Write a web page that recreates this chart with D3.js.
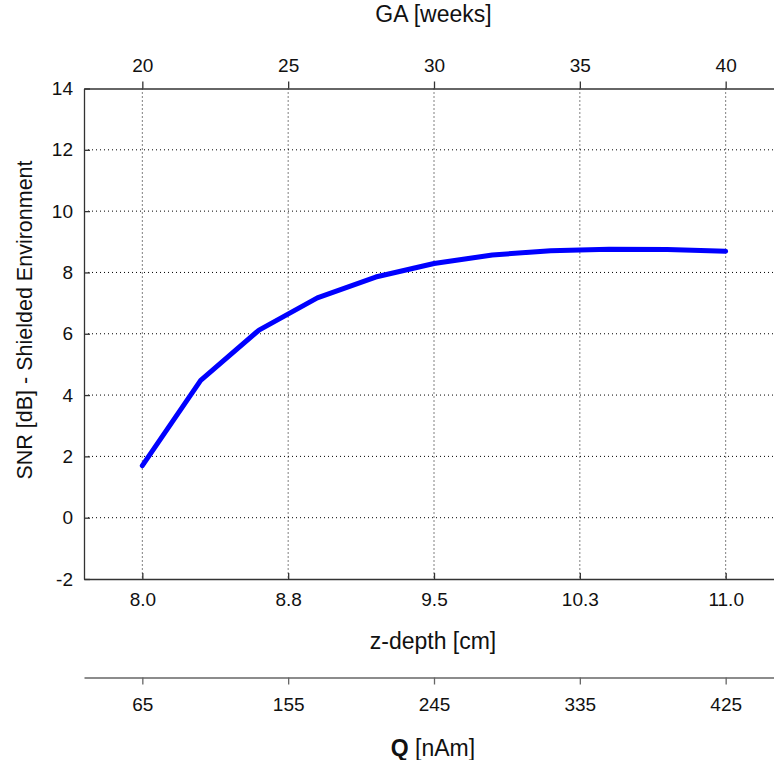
<!DOCTYPE html>
<html>
<head>
<meta charset="utf-8">
<script src="https://cdn.jsdelivr.net/npm/d3@7"></script>
<style>
  html, body { margin: 0; padding: 0; background: #fff; }
  svg { display: block; font-family: Arial, "Liberation Sans", Helvetica, sans-serif; }
</style>
</head>
<body>
<svg id="chart" width="774" height="760"></svg>
<script>
// Gestational age (weeks) and the SNR measured in a shielded room
const gaWeeks = [20, 22, 24, 26, 28, 30, 32, 34, 36, 38, 40];
const snrDb   = [1.70, 4.48, 6.12, 7.17, 7.85, 8.29, 8.57, 8.71, 8.76, 8.75, 8.69];

// Tick values for the three horizontal axes and the vertical axis
const gaTicks = [20, 25, 30, 35, 40];
const zTicks  = [8.0, 8.75, 9.5, 10.25, 11.0];   // z-depth [cm]
const qTicks  = [65, 155, 245, 335, 425];        // Q [nAm]
const snrTicks = [-2, 0, 2, 4, 6, 8, 10, 12, 14];

const svg = d3.select("#chart");
const plotL = 84, plotR = 784, plotT = 88.5, plotB = 579;

// GA is the primary x scale; z-depth and Q are linear in GA over the range shown
const x  = d3.scaleLinear().domain([18, 42]).range([plotL, plotR]);
const xz = d3.scaleLinear().domain([7.7, 11.3]).range([plotL, plotR]);
const xq = d3.scaleLinear().domain([29, 461]).range([plotL, plotR]);
const y  = d3.scaleLinear().domain([-2, 14]).range([plotB, plotT]);

const axisColor = "#333";
const tickFont = 19, titleFont = 23, yTitleFont = 21.5;
const fontStack = "Arial, 'Liberation Sans', sans-serif";

// Dotted grid
const grid = svg.append("g");
grid.selectAll("line.h").data(snrTicks.filter(d => d > -2 && d < 14)).join("line")
  .attr("class", "h")
  .attr("x1", plotL).attr("x2", plotR)
  .attr("y1", d => y(d)).attr("y2", d => y(d))
  .attr("stroke", "#000").attr("stroke-width", 1).attr("stroke-dasharray", "1,3");
grid.selectAll("line.v").data(gaTicks).join("line")
  .attr("class", "v")
  .attr("x1", d => x(d)).attr("x2", d => x(d))
  .attr("y1", plotT).attr("y2", plotB)
  .attr("stroke", "#000").attr("stroke-width", 1).attr("stroke-dasharray", "1,3");

function styleAxis(g) {
  g.attr("font-size", tickFont).attr("font-family", fontStack);
  g.selectAll(".domain").attr("stroke", axisColor).attr("stroke-width", 1.3);
  g.selectAll(".tick line").attr("stroke", axisColor).attr("stroke-width", 1.3);
  g.selectAll(".tick text").attr("fill", "#111");
}

// Top axis: GA [weeks]
svg.append("g").attr("transform", `translate(0,${plotT})`)
  .call(d3.axisTop(x).tickValues(gaTicks).tickSize(7).tickSizeOuter(0).tickPadding(10))
  .call(styleAxis);

// Bottom axis: z-depth [cm], ticks drawn inward
svg.append("g").attr("transform", `translate(0,${plotB})`)
  .call(d3.axisBottom(xz).tickValues(zTicks).tickFormat(d3.format(".1f"))
    .tickSizeInner(-6).tickSizeOuter(0).tickPadding(14))
  .call(styleAxis);

// Left axis: SNR, ticks drawn inward, plain hyphen for negatives
svg.append("g").attr("transform", `translate(${plotL},0)`)
  .call(d3.axisLeft(y).tickValues(snrTicks).tickFormat(d => String(d))
    .tickSizeInner(-6).tickSizeOuter(0).tickPadding(11))
  .call(styleAxis);

// Separate axis for Q [nAm]
svg.append("g").attr("transform", "translate(0,677.5)")
  .call(d3.axisBottom(xq).tickValues(qTicks).tickSize(7).tickSizeOuter(0).tickPadding(13))
  .call(g => {
    styleAxis(g);
    g.selectAll(".domain, .tick line").attr("stroke", "#666");
  });

// SNR curve
svg.append("path")
  .datum(gaWeeks.map((g, i) => [g, snrDb[i]]))
  .attr("fill", "none")
  .attr("stroke", "#0000ff")
  .attr("stroke-width", 5)
  .attr("stroke-linejoin", "round")
  .attr("stroke-linecap", "round")
  .attr("d", d3.line().x(d => x(d[0])).y(d => y(d[1])));

// Axis titles
const titles = svg.append("g").attr("font-family", fontStack).attr("fill", "#111");
titles.append("text").attr("x", 433.5).attr("y", 22).attr("text-anchor", "middle")
  .attr("font-size", titleFont).text("GA [weeks]");
titles.append("text").attr("x", 433).attr("y", 649).attr("text-anchor", "middle")
  .attr("font-size", titleFont).text("z-depth [cm]");
const qTitle = titles.append("text").attr("x", 433).attr("y", 756).attr("text-anchor", "middle")
  .attr("font-size", titleFont);
qTitle.append("tspan").attr("font-weight", "bold").text("Q");
qTitle.append("tspan").text(" [nAm]");
titles.append("text").attr("transform", "translate(32,320) rotate(-90)")
  .attr("text-anchor", "middle").attr("font-size", yTitleFont)
  .text("SNR [dB] - Shielded Environment");
</script>
</body>
</html>
